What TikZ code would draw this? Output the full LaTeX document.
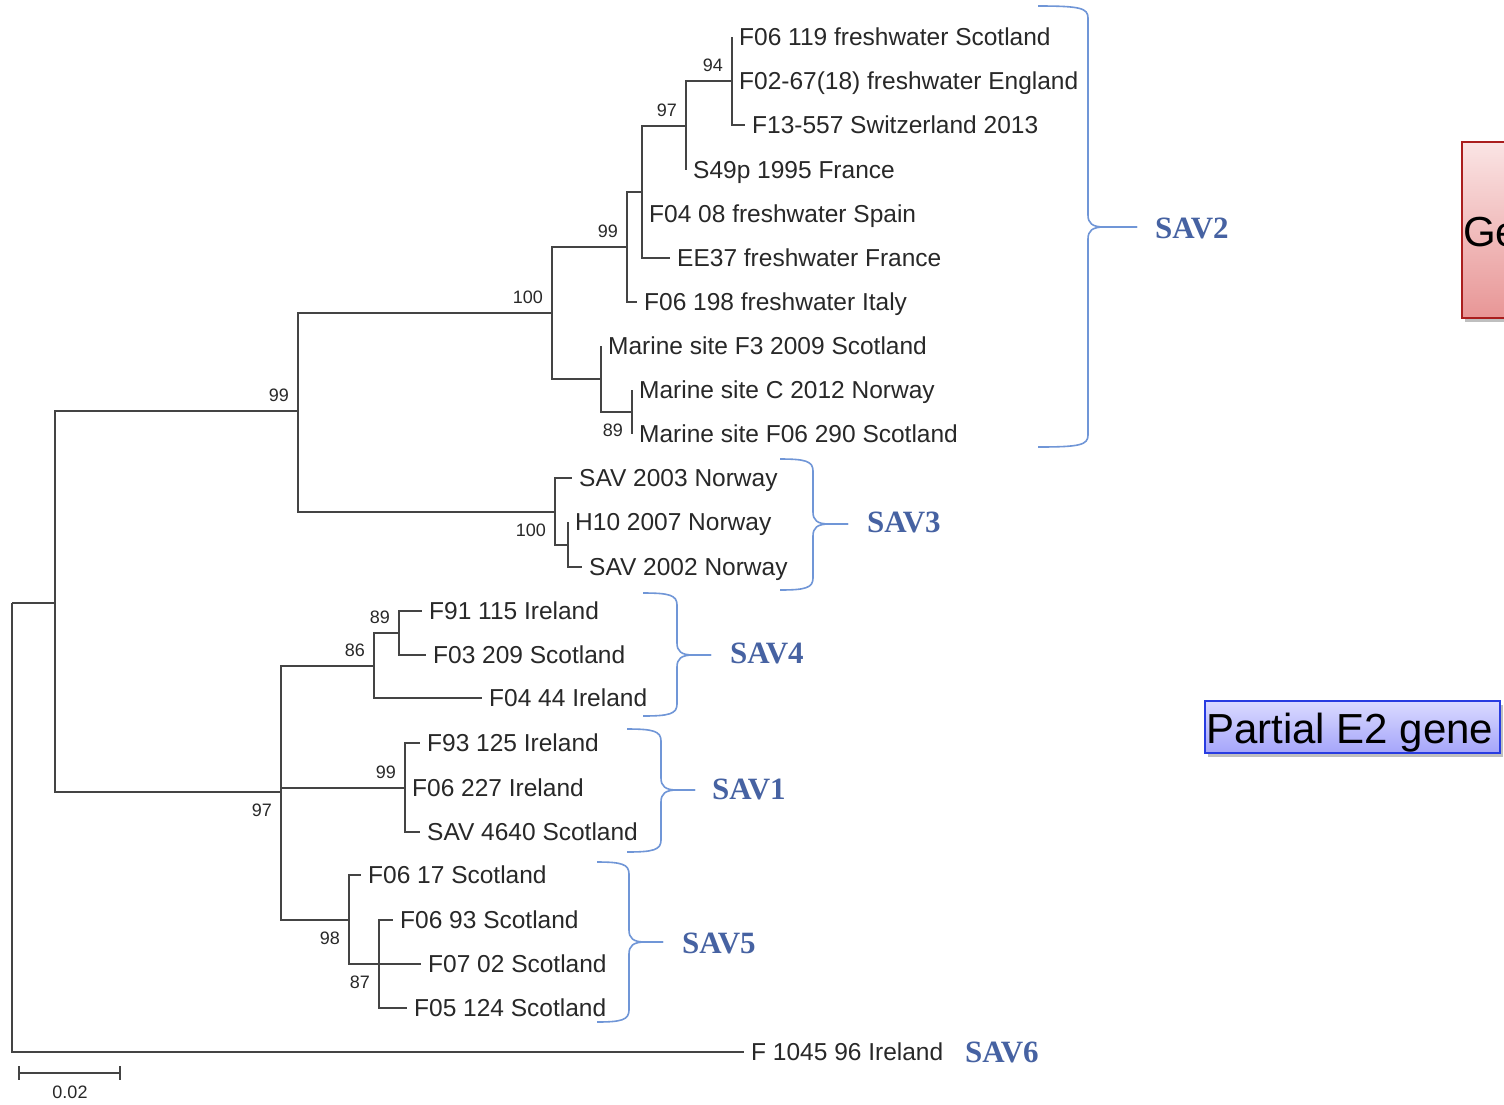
\documentclass[tikz,border=0pt]{standalone}
\usepackage{fontspec}
\setmainfont{Liberation Sans}
\newfontfamily\savfont{Liberation Serif}
\usetikzlibrary{calc}
\definecolor{treeline}{RGB}{68,68,68}
\definecolor{tiptext}{RGB}{40,40,40}
\definecolor{bracecol}{RGB}{112,150,215}
\definecolor{savcol}{RGB}{70,98,162}
\definecolor{redtop}{RGB}{250,228,228}
\definecolor{redbot}{RGB}{232,150,150}
\definecolor{redborder}{RGB}{170,30,30}
\definecolor{bluetop}{RGB}{218,218,255}
\definecolor{bluebot}{RGB}{165,165,250}
\definecolor{blueborder}{RGB}{40,60,225}
\newcommand{\savbrace}[6]{% x1, xv, xt, ytop, ybot, ymid
  \draw[bracepath] (#1,#4) .. controls (#2-8,#4) and (#2,#4+2) .. (#2,#4+12)
    -- (#2,#6-12) .. controls (#2,#6-4) and (#2+4,#6) .. (#2+16,#6) -- (#3,#6);
  \draw[bracepath] (#3,#6) -- (#2+16,#6) .. controls (#2+4,#6) and (#2,#6+4) .. (#2,#6+12)
    -- (#2,#5-12) .. controls (#2,#5-2) and (#2-8,#5) .. (#1,#5);
}
\begin{document}
\begin{tikzpicture}[x=1pt,y=-1pt,
  br/.style={draw=treeline, line width=1.9pt},
  tip/.style={anchor=base west, inner xsep=7pt, inner ysep=0pt, yshift=-8.7pt, text=tiptext, font=\fontsize{24.5}{28}\selectfont},
  bsa/.style={anchor=south east, inner sep=0pt, xshift=-9pt, yshift=9pt, text=tiptext, font=\fontsize{18}{20}\selectfont},
  bsb/.style={anchor=north east, inner sep=0pt, xshift=-9pt, yshift=-12pt, text=tiptext, font=\fontsize{18}{20}\selectfont},
  sav/.style={anchor=west, inner sep=0pt, text=savcol, font=\savfont\bfseries\fontsize{31}{34}\selectfont},
  bracepath/.style={draw=bracecol, line width=1.6pt},
  boxtext/.style={anchor=base west, inner sep=0pt, text=black, font=\fontsize{42}{46}\selectfont}
]
\useasboundingbox (0,0) rectangle (1504,1104);
\fill[white] (0,0) rectangle (1504,1104);

% internal nodes
\coordinate (R) at (12,603);
\coordinate (A) at (55,603);
\coordinate (B) at (298,411);
\coordinate (C) at (552,313);
\coordinate (D) at (627,247);
\coordinate (E) at (642,192);
\coordinate (F) at (686,126);
\coordinate (G) at (732,81);
\coordinate (H) at (601,379);
\coordinate (I) at (632,412);
\coordinate (J) at (555,512);
\coordinate (K) at (568,545);
\coordinate (L) at (281,792);
\coordinate (M) at (374,666);
\coordinate (N) at (399,633);
\coordinate (O) at (405,788);
\coordinate (P) at (349,920);
\coordinate (Q) at (379,964);

% tips
\coordinate (t1) at (732,37);
\coordinate (t2) at (732,81);
\coordinate (t3) at (745,125);
\coordinate (t4) at (686,170);
\coordinate (t5) at (642,214);
\coordinate (t6) at (670,258);
\coordinate (t7) at (637,302);
\coordinate (t8) at (601,346);
\coordinate (t9) at (632,390);
\coordinate (t10) at (632,434);
\coordinate (t11) at (572,478);
\coordinate (t12) at (568,522);
\coordinate (t13) at (582,567);
\coordinate (t14) at (422,611);
\coordinate (t15) at (426,655);
\coordinate (t16) at (482,698);
\coordinate (t17) at (420,743);
\coordinate (t18) at (405,788);
\coordinate (t19) at (420,832);
\coordinate (t20) at (361,875);
\coordinate (t21) at (393,920);
\coordinate (t22) at (421,964);
\coordinate (t23) at (407,1008);
\coordinate (t24) at (744,1052);

% branches
\draw[br] (R) |- (A);
\draw[br] (R) |- (t24);
\draw[br] (A) |- (B);
\draw[br] (A) |- (L);
\draw[br] (B) |- (C);
\draw[br] (B) |- (J);
\draw[br] (C) |- (D);
\draw[br] (C) |- (H);
\draw[br] (D) |- (E);
\draw[br] (D) |- (t7);
\draw[br] (E) |- (F);
\draw[br] (E) |- (t5);
\draw[br] (E) |- (t6);
\draw[br] (F) |- (G);
\draw[br] (F) |- (t4);
\draw[br] (G) |- (t1);
\draw[br] (G) |- (t2);
\draw[br] (G) |- (t3);
\draw[br] (H) |- (t8);
\draw[br] (H) |- (I);
\draw[br] (I) |- (t9);
\draw[br] (I) |- (t10);
\draw[br] (J) |- (t11);
\draw[br] (J) |- (K);
\draw[br] (K) |- (t12);
\draw[br] (K) |- (t13);
\draw[br] (L) |- (M);
\draw[br] (L) |- (O);
\draw[br] (L) |- (P);
\draw[br] (M) |- (N);
\draw[br] (M) |- (t16);
\draw[br] (N) |- (t14);
\draw[br] (N) |- (t15);
\draw[br] (O) |- (t17);
\draw[br] (O) |- (t18);
\draw[br] (O) |- (t19);
\draw[br] (P) |- (t20);
\draw[br] (P) |- (Q);
\draw[br] (Q) |- (t21);
\draw[br] (Q) |- (t22);
\draw[br] (Q) |- (t23);

% tip labels
\node[tip] (l1) at (t1) {F06 119 freshwater Scotland};
\node[tip] (l2) at (t2) {F02-67(18) freshwater England};
\node[tip] (l3) at (t3) {F13-557 Switzerland 2013};
\node[tip] (l4) at (t4) {S49p 1995 France};
\node[tip] (l5) at (t5) {F04 08 freshwater Spain};
\node[tip] (l6) at (t6) {EE37 freshwater France};
\node[tip] (l7) at (t7) {F06 198 freshwater Italy};
\node[tip] (l8) at (t8) {Marine site F3 2009 Scotland};
\node[tip] (l9) at (t9) {Marine site C 2012 Norway};
\node[tip] (l10) at (t10) {Marine site F06 290 Scotland};
\node[tip] (l11) at (t11) {SAV 2003 Norway};
\node[tip] (l12) at (t12) {H10 2007 Norway};
\node[tip] (l13) at (t13) {SAV 2002 Norway};
\node[tip] (l14) at (t14) {F91 115 Ireland};
\node[tip] (l15) at (t15) {F03 209 Scotland};
\node[tip] (l16) at (t16) {F04 44 Ireland};
\node[tip] (l17) at (t17) {F93 125 Ireland};
\node[tip] (l18) at (t18) {F06 227 Ireland};
\node[tip] (l19) at (t19) {SAV 4640 Scotland};
\node[tip] (l20) at (t20) {F06 17 Scotland};
\node[tip] (l21) at (t21) {F06 93 Scotland};
\node[tip] (l22) at (t22) {F07 02 Scotland};
\node[tip] (l23) at (t23) {F05 124 Scotland};
\node[tip] (l24) at (t24) {F 1045 96 Ireland};

% bootstrap values
\node[bsa] (bB) at (B) {99};
\node[bsa] (bC) at (C) {100};
\node[bsa] (bD) at (D) {99};
\node[bsa] (bF) at (F) {97};
\node[bsa] (bG) at (G) {94};
\node[bsa] (bN) at (N) {89};
\node[bsa] (bM) at (M) {86};
\node[bsa] (bO) at (O) {99};
\node[bsb] (bI) at (I) {89};
\node[bsb] (bJ) at (J) {100};
\node[bsb] (bL) at (L) {97};
\node[bsb] (bP) at (P) {98};
\node[bsb] (bQ) at (Q) {87};

% scale bar
\coordinate (s1) at (19,1073);
\coordinate (s2) at (120,1073);
\draw[br, line width=1.6pt] (s1) -- (s2);
\draw[br, line width=1.6pt] ($(s1)+(0,-7)$) -- ($(s1)+(0,7)$);
\draw[br, line width=1.6pt] ($(s2)+(0,-7)$) -- ($(s2)+(0,7)$);
\node[anchor=north, inner sep=0pt, text=tiptext, font=\fontsize{18}{20}\selectfont] (sbl) at (70,1086) {0.02};

% braces and group labels
\savbrace{1038}{1088}{1137}{6}{447}{227}
\savbrace{780}{813}{848}{459}{590}{524}
\savbrace{643}{677}{711}{593}{716}{655}
\savbrace{627}{661}{695}{729}{852}{790}
\savbrace{597}{629}{663}{862}{1022}{942}
\node[sav] (sav2) at (1155,228) {SAV2};
\node[sav] (sav3) at (867,522) {SAV3};
\node[sav] (sav4) at (730,653) {SAV4};
\node[sav] (sav1) at (712,789) {SAV1};
\node[sav] (sav5) at (682,943) {SAV5};
\node[sav] (sav6) at (965,1052) {SAV6};

% boxes at right (cut by the picture's right edge, as in the reference)
\begin{scope}
\clip (0,0) rectangle (1504,1104);
\fill[black, opacity=0.25] (1465,146) rectangle (1530,322);
\shade[top color=redtop, bottom color=redbot] (1462,142) rectangle (1530,318);
\draw[redborder, line width=1.8pt] (1462,142) rectangle (1530,318);
\node[boxtext] (ge) at (1463,246) {Ge};
\fill[black, opacity=0.25] (1208,705) rectangle (1503,757);
\shade[top color=bluetop, bottom color=bluebot] (1205,701) rectangle (1500,753);
\draw[blueborder, line width=1.6pt] (1205,701) rectangle (1500,753);
\node[boxtext] (e2) at (1206,743) {Partial E2 gene};
\end{scope}
\end{tikzpicture}
\end{document}
